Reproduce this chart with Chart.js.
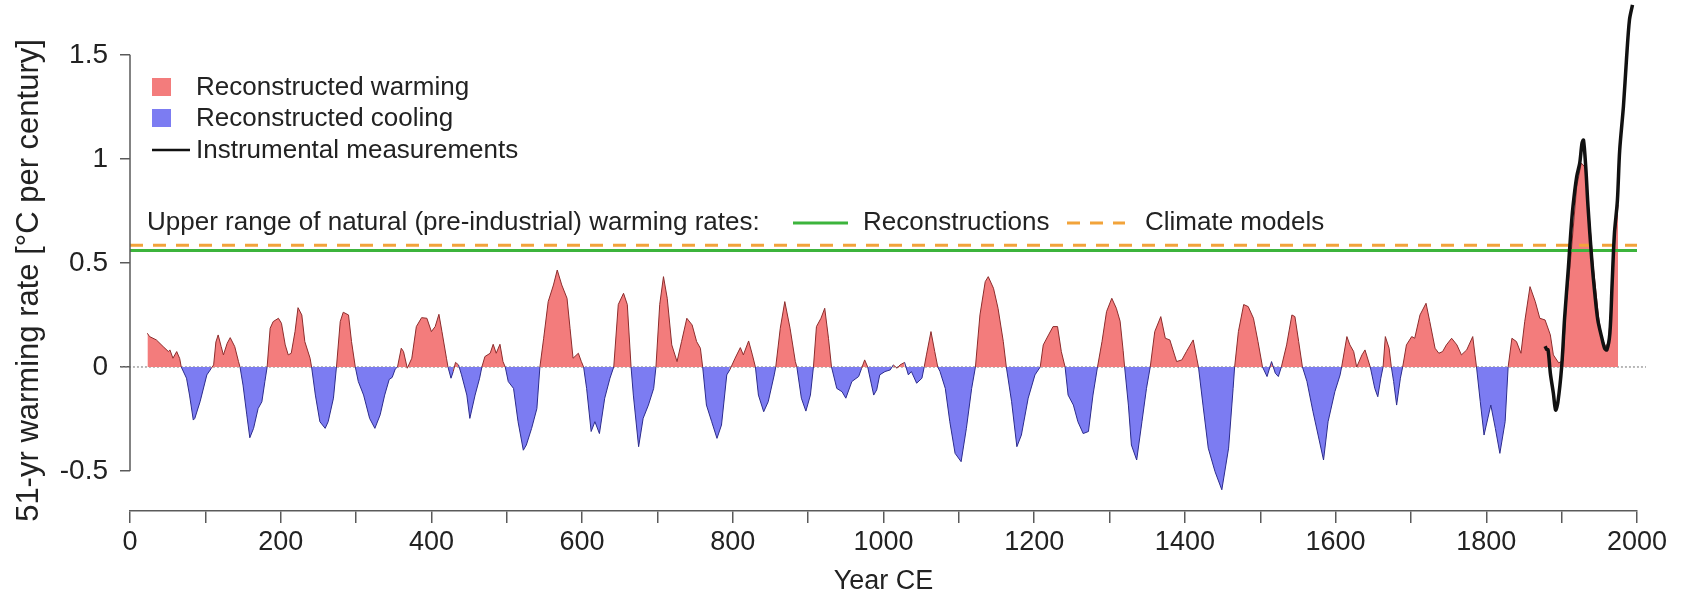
<!DOCTYPE html>
<html>
<head>
<meta charset="utf-8">
<script src="https://cdn.jsdelivr.net/npm/chart.js@4.4.1/dist/chart.umd.min.js"></script>
<style>
    html, body { margin: 0; padding: 0; background: #ffffff; }
    #wrap { width: 1686px; height: 602px; }
</style>
</head>
<body>
<div id="wrap"><canvas id="rate-chart" width="1686" height="602"></canvas></div>
<script>
// ── Data ─────────────────────────────────────────────────────────────────────
const reconYears = [
    23, 26, 35, 44, 51, 53, 57, 62, 66, 68, 75, 79, 84, 86, 93, 102, 108, 111, 114, 117,
    121, 124, 129, 133, 139, 144, 146, 150, 155, 159, 164, 170, 175, 179, 182, 186, 190, 197, 201, 206,
    210, 214, 219, 223, 228, 232, 239, 241, 246, 252, 259, 263, 270, 274, 279, 283, 290, 294, 299, 303,
    310, 318, 325, 332, 338, 344, 348, 352, 355, 360, 363, 368, 374, 380, 387, 394, 400, 405, 410, 414,
    420, 422, 426, 429, 432, 436, 440, 447, 451, 458, 464, 467, 471, 478, 482, 486, 491, 495, 498, 502,
    509, 515, 522, 526, 533, 540, 544, 549, 555, 562, 567, 573, 580, 584, 588, 595, 599, 602, 606, 612,
    617, 623, 630, 637, 642, 648, 655, 660, 665, 668, 675, 681, 688, 695, 698, 703, 708, 713, 719, 726,
    732, 739, 746, 752, 757, 760, 765, 772, 779, 785, 792, 796, 803, 810, 814, 821, 826, 830, 834, 841,
    847, 855, 857, 863, 869, 876, 883, 885, 891, 897, 903, 907, 911, 917, 922, 927, 931, 938, 945, 950,
    958, 967, 971, 975, 979, 987, 991, 995, 1002, 1009, 1013, 1018, 1022, 1028, 1033, 1037, 1044, 1051, 1054, 1057,
    1063, 1068, 1072, 1075, 1082, 1088, 1095, 1103, 1110, 1117, 1122, 1128, 1135, 1139, 1146, 1152, 1159, 1163, 1170, 1177,
    1183, 1192, 1201, 1208, 1212, 1219, 1225, 1231, 1236, 1241, 1245, 1252, 1258, 1265, 1272, 1278, 1284, 1290, 1296, 1303,
    1309, 1314, 1318, 1320, 1325, 1329, 1336, 1343, 1349, 1354, 1360, 1368, 1374, 1380, 1389, 1396, 1402, 1411, 1418, 1424,
    1431, 1440, 1449, 1458, 1464, 1466, 1471, 1478, 1484, 1491, 1497, 1503, 1509, 1515, 1520, 1524, 1528, 1535, 1542, 1546,
    1551, 1556, 1562, 1570, 1584, 1590, 1599, 1606, 1608, 1615, 1619, 1624, 1628, 1635, 1639, 1646, 1652, 1656, 1660, 1663,
    1666, 1671, 1674, 1677, 1681, 1686, 1689, 1694, 1701, 1705, 1712, 1720, 1725, 1732, 1737, 1742, 1747, 1754, 1761, 1767,
    1774, 1782, 1785, 1787, 1792, 1797, 1806, 1812, 1818, 1825, 1829, 1834, 1840, 1846, 1851, 1858, 1865, 1871, 1878, 1885,
    1889, 1896, 1902, 1906, 1911, 1920, 1926, 1931, 1935, 1942, 1949, 1953, 1958, 1962, 1966, 1971, 1975
];
const reconValues = [
    0.162, 0.146, 0.13, 0.098, 0.074, 0.082, 0.042, 0.074, 0.04, 0, -0.054, -0.135, -0.255, -0.247, -0.167, -0.038, -0.006, 0.01, 0.12, 0.154,
    0.098, 0.058, 0.114, 0.141, 0.098, 0.026, 0, -0.087, -0.23, -0.34, -0.295, -0.2, -0.167, -0.07, 0, 0.186, 0.218, 0.234, 0.21, 0.106,
    0.058, 0.066, 0.17, 0.285, 0.25, 0.122, 0.042, 0, -0.135, -0.263, -0.295, -0.263, -0.15, 0, 0.218, 0.263, 0.25, 0.122, 0, -0.07,
    -0.135, -0.247, -0.295, -0.23, -0.135, -0.06, -0.05, -0.01, 0, 0.09, 0.074, -0.006, 0.042, 0.194, 0.237, 0.234, 0.17, 0.194, 0.253, 0.17,
    0.042, 0, -0.054, -0.022, 0.022, 0.01, -0.038, -0.135, -0.247, -0.135, -0.054, 0, 0.05, 0.066, 0.109, 0.066, 0.109, 0.026, 0, -0.07,
    -0.103, -0.263, -0.4, -0.375, -0.295, -0.2, 0, 0.138, 0.314, 0.394, 0.466, 0.394, 0.33, 0.186, 0.042, 0.066, 0.026, 0, -0.103, -0.31,
    -0.263, -0.32, -0.15, -0.054, 0, 0.3, 0.354, 0.3, 0, -0.135, -0.383, -0.247, -0.183, -0.103, 0, 0.3, 0.434, 0.33, 0.106, 0.026,
    0.122, 0.234, 0.202, 0.122, 0.09, 0, -0.183, -0.263, -0.343, -0.279, -0.038, -0.014, 0.042, 0.093, 0.058, 0.125, 0.058, 0, -0.135, -0.215,
    -0.167, -0.038, 0, 0.186, 0.314, 0.186, 0.026, 0, -0.15, -0.212, -0.135, 0, 0.194, 0.234, 0.282, 0.138, 0, -0.103, -0.119, -0.15,
    -0.07, -0.046, -0.006, 0.034, 0, -0.135, -0.11, -0.038, -0.022, -0.014, 0.01, -0.006, 0.01, 0.022, -0.038, -0.022, -0.078, -0.054, 0, 0.058,
    0.17, 0.074, 0, -0.022, -0.103, -0.263, -0.415, -0.455, -0.295, -0.103, 0, 0.25, 0.41, 0.434, 0.378, 0.282, 0.122, 0, -0.167, -0.383,
    -0.327, -0.15, -0.038, 0, 0.106, 0.154, 0.194, 0.194, 0.074, 0, -0.135, -0.183, -0.263, -0.32, -0.31, -0.135, 0, 0.122, 0.266, 0.33,
    0.282, 0.22, 0.08, 0, -0.183, -0.375, -0.447, -0.263, -0.103, 0, 0.17, 0.242, 0.138, 0.13, 0.026, 0.034, 0.074, 0.13, 0, -0.183,
    -0.39, -0.503, -0.59, -0.39, -0.103, 0, 0.17, 0.3, 0.29, 0.234, 0.122, 0, -0.046, 0.026, -0.03, -0.046, 0, 0.106, 0.25, 0.242,
    0.122, 0, -0.07, -0.215, -0.447, -0.263, -0.119, -0.038, 0, 0.146, 0.106, 0.074, 0, 0.058, 0.082, 0, -0.103, -0.143, -0.054, 0,
    0.146, 0.09, 0, -0.07, -0.183, -0.054, 0, 0.106, 0.146, 0.138, 0.25, 0.306, 0.218, 0.09, 0.066, 0.074, 0.106, 0.138, 0.106, 0.058,
    0.082, 0.146, 0.058, 0, -0.167, -0.327, -0.183, -0.295, -0.415, -0.263, 0, 0.138, 0.122, 0.066, 0.218, 0.386, 0.314, 0.234, 0.226, 0.154,
    0.058, 0.02, 0.03, 0.3, 0.48, 0.867, 0.98, 0.96, 0.8, 0.48, 0.24, 0.145, 0.1, 0.114, 0.32, 0.64, 0.78
];

const instrYears = [
    1878, 1880, 1882, 1885, 1889, 1892, 1895, 1900, 1904, 1909, 1912, 1915, 1920, 1924, 1927, 1929, 1932,
    1935, 1940, 1944, 1948, 1953, 1957, 1960, 1964, 1967, 1970, 1974, 1977, 1982, 1986, 1990, 1994
];
const instrValues = [
    0.1, 0.085, 0.082, -0.03, -0.126, -0.207, -0.17, 0.0, 0.24, 0.48, 0.64, 0.77, 0.915, 0.98, 1.075, 1.09, 0.96,
    0.77, 0.514, 0.354, 0.226, 0.145, 0.09, 0.082, 0.162, 0.402, 0.64, 0.8, 1.04, 1.252, 1.476, 1.668, 1.74
];

// natural upper range (pre-industrial), from year 0 to 2000
const refYears = [0, 2000];
const reconstructionLimit = [0.56, 0.56];
const modelLimit = [0.585, 0.585];
const zeroYears = [-12, 2012];
const zeroValues = [0, 0];

const yTickValues = [-0.5, 0, 0.5, 1, 1.5];
const yTickLabels = ['-0.5', '0', '0.5', '1', '1.5'];
const xLabelStep = 200;

const FONT = '"Liberation Sans", Arial, sans-serif';
const TEXT_COLOR = '#222222';
const AXIS_COLOR = '#5a5a5a';
const WARM_FILL = '#f37c7c';
const COOL_FILL = '#7c7cf2';
const GREEN = '#3cb43c';
const ORANGE = '#f2a33a';

function toPoints(xs, ys) {
    return xs.map((x, i) => ({ x, y: ys[i] }));
}

// ── Legend, annotation row and the short R-style y axis line ─────────────────
const decorPlugin = {
    id: 'decor',
    afterDraw(chart) {
        const ctx = chart.ctx;
        const yScale = chart.scales.y;
        const area = chart.chartArea;
        ctx.save();

        // y axis line only across tick range
        ctx.strokeStyle = AXIS_COLOR;
        ctx.lineWidth = 1.5;
        ctx.beginPath();
        ctx.moveTo(area.left, yScale.getPixelForValue(1.5));
        ctx.lineTo(area.left, yScale.getPixelForValue(-0.5));
        ctx.stroke();

        ctx.font = '26px ' + FONT;
        ctx.fillStyle = TEXT_COLOR;
        ctx.textBaseline = 'middle';
        ctx.textAlign = 'left';

        // top-left legend
        ctx.fillStyle = WARM_FILL;
        ctx.fillRect(152, 78, 19, 18);
        ctx.fillStyle = COOL_FILL;
        ctx.fillRect(152, 109, 19, 18);
        ctx.strokeStyle = '#111111';
        ctx.lineWidth = 2.5;
        ctx.beginPath();
        ctx.moveTo(152, 150);
        ctx.lineTo(190, 150);
        ctx.stroke();

        ctx.fillStyle = TEXT_COLOR;
        ctx.fillText('Reconstructed warming', 196, 88);
        ctx.fillText('Reconstructed cooling', 196, 119);
        ctx.fillText('Instrumental measurements', 196, 151);

        // annotation row above the reference lines
        const rowY = 223;
        ctx.fillText('Upper range of natural (pre-industrial) warming rates:', 147, rowY);
        ctx.strokeStyle = GREEN;
        ctx.lineWidth = 3;
        ctx.beginPath();
        ctx.moveTo(793, rowY);
        ctx.lineTo(848, rowY);
        ctx.stroke();
        ctx.fillText('Reconstructions', 863, rowY);

        ctx.strokeStyle = ORANGE;
        ctx.setLineDash([13, 10]);
        ctx.beginPath();
        ctx.moveTo(1067, rowY);
        ctx.lineTo(1125, rowY);
        ctx.stroke();
        ctx.setLineDash([]);
        ctx.fillText('Climate models', 1145, rowY);

        ctx.restore();
    }
};

document.addEventListener('DOMContentLoaded', function () {
    const ctx = document.getElementById('rate-chart').getContext('2d');

    new Chart(ctx, {
        type: 'line',
        data: {
            datasets: [
                {
                    label: 'Instrumental measurements',
                    data: toPoints(instrYears, instrValues),
                    borderColor: '#111111',
                    borderWidth: 3.5,
                    pointRadius: 0,
                    tension: 0.3,
                    fill: false,
                    clip: false,
                    order: 0
                },
                {
                    label: 'Climate models',
                    data: toPoints(refYears, modelLimit),
                    borderColor: ORANGE,
                    borderWidth: 3,
                    borderDash: [13, 10],
                    pointRadius: 0,
                    fill: false,
                    order: 1
                },
                {
                    label: 'Reconstructions',
                    data: toPoints(refYears, reconstructionLimit),
                    borderColor: GREEN,
                    borderWidth: 3,
                    pointRadius: 0,
                    fill: false,
                    order: 2
                },
                {
                    label: 'zero',
                    data: toPoints(zeroYears, zeroValues),
                    borderColor: '#8a8a8a',
                    borderWidth: 1.2,
                    borderDash: [2, 2],
                    pointRadius: 0,
                    fill: false,
                    clip: false,
                    order: 4
                },
                {
                    label: 'Reconstructed',
                    data: toPoints(reconYears, reconValues),
                    borderWidth: 1,
                    borderColor: '#7a2a40',
                    segment: {
                        borderColor: c => (c.p0.parsed.y + c.p1.parsed.y >= 0 ? '#8c2c2c' : '#2c2c8c')
                    },
                    pointRadius: 0,
                    tension: 0,
                    fill: { target: 'origin', above: WARM_FILL, below: COOL_FILL },
                    order: 3
                }
            ]
        },
        options: {
            responsive: false,
            devicePixelRatio: 1,
            animation: false,
            layout: { padding: { left: 0, right: 49, top: 50, bottom: 0 } },
            plugins: {
                legend: { display: false },
                tooltip: { enabled: false }
            },
            scales: {
                x: {
                    type: 'linear',
                    min: 0,
                    max: 2000,
                    afterFit: s => { s.height = 91; },
                    ticks: {
                        stepSize: 100,
                        autoSkip: false,
                        maxRotation: 0,
                        padding: 3,
                        color: TEXT_COLOR,
                        font: { family: FONT, size: 27 },
                        callback: v => (v % xLabelStep === 0 ? String(v) : '')
                    },
                    grid: { drawOnChartArea: false, drawTicks: true, tickLength: 12, color: AXIS_COLOR, lineWidth: 1.5 },
                    border: { display: true, color: AXIS_COLOR, width: 1.5 },
                    title: {
                        display: true,
                        text: 'Year CE',
                        color: TEXT_COLOR,
                        font: { family: FONT, size: 27 },
                        padding: { top: 0, bottom: 4 }
                    }
                },
                y: {
                    min: -0.692,
                    max: 1.523,
                    afterFit: s => { s.width = 130; },
                    afterBuildTicks: s => { s.ticks = yTickValues.map(v => ({ value: v })); },
                    ticks: {
                        padding: 12,
                        color: TEXT_COLOR,
                        font: { family: FONT, size: 28 },
                        callback: v => yTickLabels[yTickValues.indexOf(v)]
                    },
                    grid: { drawOnChartArea: false, drawTicks: true, tickLength: 10, color: AXIS_COLOR, lineWidth: 1.5 },
                    border: { display: false },
                    title: {
                        display: true,
                        text: '51-yr warming rate [°C per century]',
                        color: TEXT_COLOR,
                        font: { family: FONT, size: 31 },
                        padding: { top: 11, bottom: 0 }
                    }
                }
            }
        },
        plugins: [decorPlugin]
    });
});
</script>
</body>
</html>
